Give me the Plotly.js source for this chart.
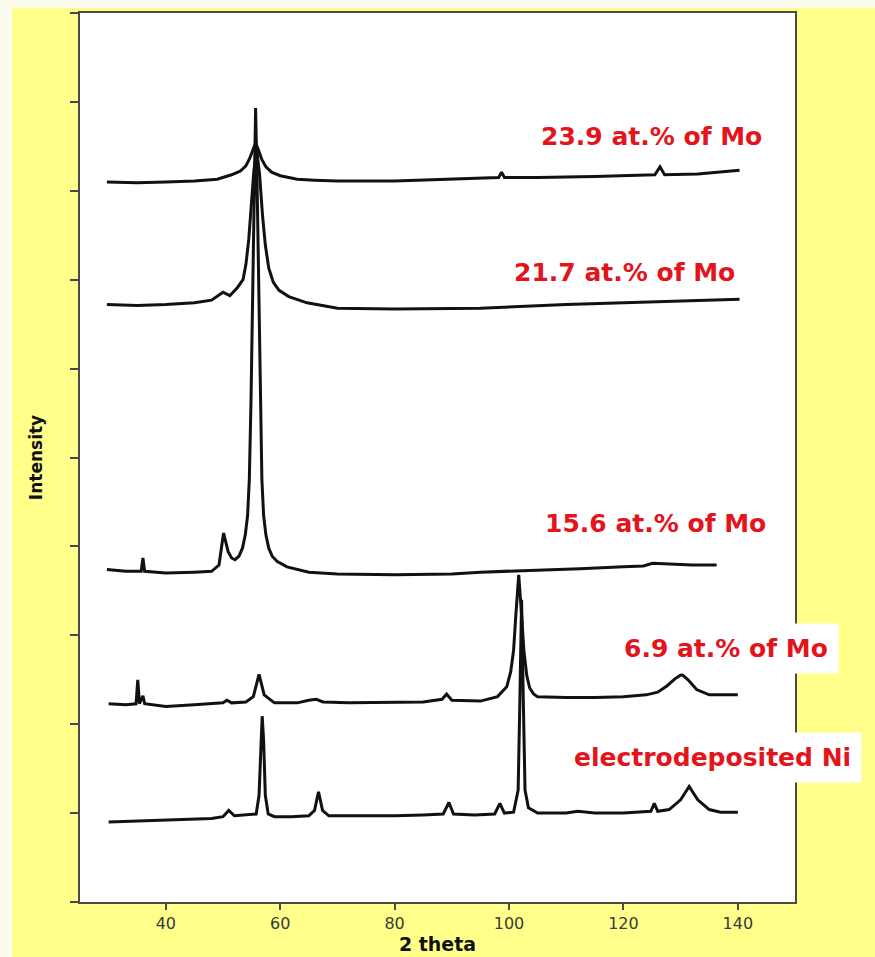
<!DOCTYPE html>
<html>
<head>
<meta charset="utf-8">
<script src="https://cdn.plot.ly/plotly-3.0.1.min.js"></script>
<style>
  html, body { margin: 0; padding: 0; background: #fcfcee; }
  body { width: 875px; height: 957px; position: relative; overflow: hidden; }
  #chart { position: absolute; left: 12px; top: 8px; width: 863px; height: 949px; }
</style>
</head>
<body>
<div id="chart"></div>
<script>
// XRD patterns of electrodeposited Ni and Ni-Mo coatings (stacked, arbitrary intensity)

const thetaNi = [30, 35, 40, 45, 48, 50, 51, 52, 54, 55.8, 56.3, 56.6, 56.85, 57.1, 57.4, 57.9, 59, 62, 65, 66, 66.7, 67.4, 68.5, 72, 80, 85, 88.5, 89.5, 90.3, 94, 97.5, 98.4, 99.2, 100.8, 101.6, 101.9, 102.2, 102.5, 102.8, 103.4, 105, 110, 112, 115, 120, 124.8, 125.4, 126, 128, 130, 131.5, 133, 135, 137, 140];
const intensityNi = [90, 91, 92, 93, 94, 96, 103, 97, 98, 99, 120, 182, 209, 182, 120, 99, 96, 96, 97, 103, 124, 103, 97, 97, 97, 98, 99, 112, 99, 98, 99, 111, 100, 101, 126, 227, 340, 227, 126, 106, 100, 100, 102, 100, 100, 102, 111, 102, 104, 115, 130, 115, 104, 101, 101];

const theta69 = [30, 33, 34.8, 35.1, 35.4, 36.0, 36.3, 40, 45, 50, 50.7, 51.5, 54, 55.3, 56.3, 57.2, 58.2, 59, 63, 65, 66.3, 67.5, 72, 80, 85, 88.3, 89.1, 90, 95, 98, 99.6, 100.3, 100.8, 101.2, 101.7, 102.2, 102.6, 103.1, 103.6, 104.3, 105, 110, 115, 120, 124, 126, 127.6, 129, 130.2, 131.3, 132.8, 135, 140];
const intensity69 = [223, 222, 223, 250, 223, 232, 223, 220, 222, 224, 227, 224, 225, 231, 256, 233, 228, 224, 224, 227, 228, 225, 224, 225, 225, 228, 234, 227, 226, 231, 242, 259, 283, 323, 368, 323, 283, 255, 241, 234, 231, 230, 230, 231, 233, 236, 243, 251, 256, 250, 239, 233, 233];

const theta156 = [29.7, 33, 35.7, 36.0, 36.3, 40, 45, 48, 49.3, 50.1, 50.9, 51.5, 52.1, 52.8, 53.4, 53.9, 54.3, 54.6, 54.9, 55.2, 55.45, 55.7, 55.95, 56.2, 56.5, 56.8, 57.1, 57.5, 58.0, 58.6, 59.5, 61.2, 65, 70, 80, 90, 95, 100, 105, 112.4, 120, 123.5, 125.1, 128, 132, 136.3];
const intensity156 = [374, 372, 372, 387, 372, 370, 371, 372, 379, 415, 394, 387, 385, 389, 398, 413, 435, 475, 565, 700, 812, 893, 812, 700, 565, 475, 435, 413, 398, 389, 383, 377, 371, 369, 368, 369, 371, 372, 373, 375, 377, 378, 381, 380, 379, 379];

const theta217 = [29.7, 35, 40, 45, 48, 50.0, 51.2, 52.5, 53.5, 54.0, 54.5, 55.0, 55.4, 55.9, 56.4, 56.9, 57.4, 58.0, 58.8, 59.8, 61.5, 64.7, 70, 80, 95, 110, 125, 135, 140.3];
const intensity217 = [672, 671, 672, 674, 677, 686, 682, 691, 700, 717, 745, 790, 823, 846, 818, 773, 739, 713, 697, 688, 681, 674, 668, 667, 668, 672, 675, 677, 678];

const theta239 = [29.7, 35, 40, 45, 49, 51.5, 53, 54.0, 54.7, 55.2, 55.7, 56.2, 56.8, 57.5, 58.5, 60, 63, 66, 70, 80, 90, 98.2, 98.7, 99.2, 105, 115, 125.5, 126.4, 127.2, 133, 140.3];
const intensity239 = [810, 809, 810, 811, 813, 818, 822, 828, 837, 846, 854, 846, 835, 827, 821, 817, 813, 812, 811, 811, 813, 815, 821, 815, 815, 816, 818, 827, 818, 819, 823];

// sample labels and where they sit (2θ, intensity)
const sampleLabels = ['23.9 at.% of Mo', '21.7 at.% of Mo', '15.6 at.% of Mo', '6.9 at.% of Mo', 'electrodeposited Ni'];
const labelTheta = [124.9, 120.2, 125.6, 138.0, 135.5];
const labelIntensity = [861, 708, 426, 285, 163];
const labelBoxed = [false, false, false, true, true];

const xTicks = [40, 60, 80, 100, 120, 140];
const yTicks = [0, 100, 200, 300, 400, 500, 600, 700, 800, 900, 1000];

const series = [
  [thetaNi, intensityNi],
  [theta69, intensity69],
  [theta156, intensity156],
  [theta217, intensity217],
  [theta239, intensity239]
];

const traces = series.map(([x, y]) => ({
  x: x, y: y,
  type: 'scatter', mode: 'lines',
  line: { color: '#111111', width: 3 },
  hoverinfo: 'skip'
}));

const annotations = sampleLabels.map((t, i) => ({
  text: t,
  x: labelTheta[i], y: labelIntensity[i],
  xref: 'x', yref: 'y',
  showarrow: false,
  xanchor: 'center', yanchor: 'middle',
  font: { family: 'DejaVu Sans, sans-serif', size: 25, color: '#e3141b', weight: 'bold' },
  bgcolor: labelBoxed[i] ? '#ffffff' : 'rgba(0,0,0,0)',
  borderpad: 10
}));

const layout = {
  width: 863, height: 949,
  margin: { l: 68, r: 80, t: 5, b: 55 },
  paper_bgcolor: '#ffff8a',
  plot_bgcolor: '#ffffff',
  showlegend: false,
  font: { family: 'DejaVu Sans, sans-serif', color: '#333333' },
  xaxis: {
    range: [25, 150],
    tickvals: xTicks,
    ticktext: xTicks.map(String),
    ticks: 'outside', ticklen: 6, tickwidth: 2, tickcolor: '#4a4a4a',
    tickfont: { size: 16, color: '#3a3a3a' },
    showgrid: false, zeroline: false,
    showline: true, linecolor: '#4a4a4a', linewidth: 2, mirror: true,
    title: { text: '2 theta', font: { size: 19, color: '#111111', weight: 'bold' }, standoff: 5 }
  },
  yaxis: {
    range: [0, 1000],
    tickvals: yTicks,
    showticklabels: false,
    ticks: 'outside', ticklen: 8, tickwidth: 2, tickcolor: '#4a4a4a',
    showgrid: false, zeroline: false,
    showline: true, linecolor: '#4a4a4a', linewidth: 2, mirror: true,
    title: { text: 'Intensity', font: { size: 17, color: '#111111', weight: 'bold' }, standoff: 23 }
  },
  annotations: annotations
};

Plotly.newPlot('chart', traces, layout, { displayModeBar: false, staticPlot: true });
</script>
</body>
</html>
